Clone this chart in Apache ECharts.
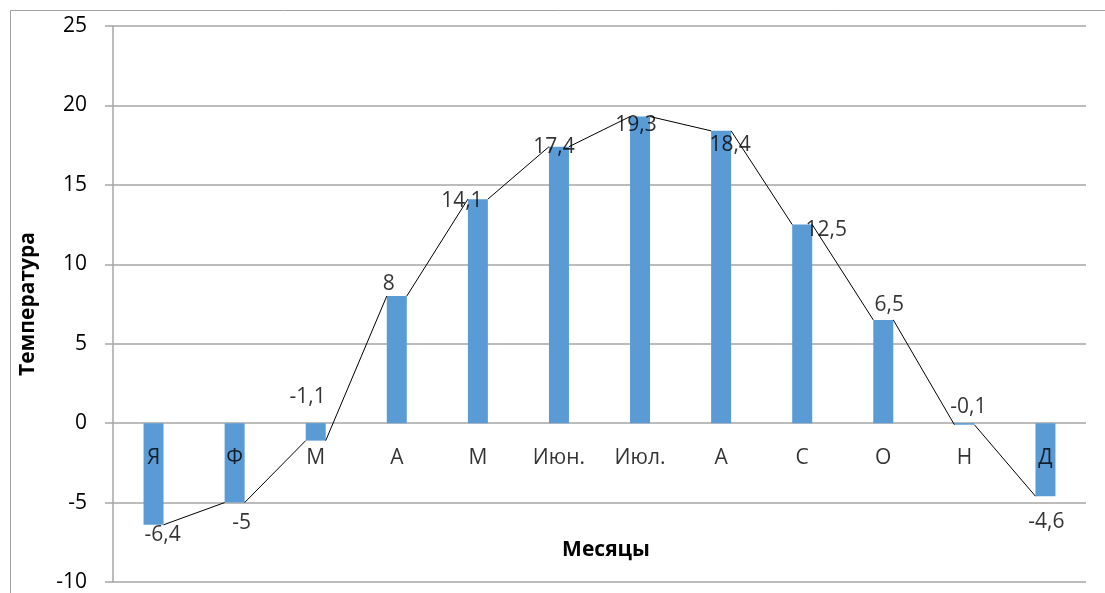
<!DOCTYPE html>
<html>
<head>
<meta charset="utf-8">
<script src="https://cdn.jsdelivr.net/npm/echarts@6/dist/echarts.min.js"></script>
<style>
html,body{margin:0;padding:0;background:#fff;}
#chart{width:1105px;height:593px;}
</style>
</head>
<body>
<div id="chart"></div>
<script>
// ---- data ----
const months = ['Я', 'Ф', 'М', 'А', 'М', 'Июн.', 'Июл.', 'А', 'С', 'О', 'Н', 'Д'];
const temperatures = [-6.4, -5, -1.1, 8, 14.1, 17.4, 19.3, 18.4, 12.5, 6.5, -0.1, -4.6];
const yTicks = { min: -10, max: 25, step: 5 };
const xTitle = 'Месяцы';
const yTitle = 'Температура';

// ---- layout / style (not data) ----
const FONT = 'Open Sans';
const FS = 21;
const BAR_PX = 20;
const CAT_PX = (1105 - 113 - 19) / months.length;
const HALF = (BAR_PX / 2) / CAT_PX; // half bar width in category units
// label nudges in px relative to the bar end point
const labelNudge = [[9, 10], [7, 20], [-8, -44], [-8, -12], [-16, 2], [-5, 0],
                    [-4, 8], [9, 14], [24, 5], [6, -15], [4, -18], [1, 26]];

// connecting line: from right corner of one bar to left corner of the next
const segments = [];
for (let i = 0; i < temperatures.length - 1; i++) {
  segments.push({ coords: [[i + HALF, temperatures[i]], [i + 1 - HALF, temperatures[i + 1]]] });
}

const fmt = v => String(v).replace('.', ',');
const gridColor = '#a6a6a6';

const chart = echarts.init(document.getElementById('chart'), null, { renderer: 'canvas' });
chart.setOption({
  animation: false,
  backgroundColor: '#fff',
  textStyle: { fontFamily: FONT },
  grid: { left: 113, right: 19, top: 26, bottom: 11, containLabel: false, outerBoundsMode: 'none' },
  title: {
    text: xTitle, left: 601, textAlign: 'center', top: 535,
    textStyle: { color: '#000', fontSize: FS, fontWeight: 'bold', fontFamily: FONT }
  },
  graphic: [{
    type: 'rect', left: 8, top: 8, z: -1,
    shape: { width: 1120, height: 620 },
    style: { fill: 'none', stroke: '#a0a0a0', lineWidth: 1 }
  }],
  xAxis: [{
    type: 'category',
    data: months,
    axisLine: { show: false },
    axisTick: { show: false },
    axisLabel: { show: false }
  }, {
    type: 'value', show: false, min: -0.5, max: months.length - 0.5
  }],
  yAxis: {
    type: 'value',
    min: yTicks.min, max: yTicks.max, interval: yTicks.step,
    axisLine: { show: true, onZero: false, lineStyle: { color: gridColor, width: 1.5 } },
    axisTick: { show: true, inside: false, length: 8, lineStyle: { color: gridColor, width: 1.5 } },
    splitLine: { show: true, lineStyle: { color: gridColor, width: 1.5 } },
    axisLabel: { color: '#000', fontSize: FS, fontFamily: FONT, margin: 26 },
    name: yTitle,
    nameLocation: 'middle',
    nameGap: 74,
    nameTextStyle: { color: '#000', fontSize: FS, fontWeight: 'bold', fontFamily: FONT }
  },
  series: [{
    type: 'bar',
    data: temperatures,
    barWidth: BAR_PX,
    itemStyle: { color: '#5b9bd5' },
    z: 2
  }, {
    type: 'lines',
    coordinateSystem: 'cartesian2d',
    xAxisIndex: 1,
    yAxisIndex: 0,
    data: segments,
    lineStyle: { color: '#000', width: 1, opacity: 1 },
    z: 3
  }, {
    // category names sit just below the zero line
    type: 'scatter',
    data: months.map((m, i) => [i, 0]),
    symbolSize: 1,
    itemStyle: { color: 'rgba(0,0,0,0)' },
    label: {
      show: true, position: 'inside', offset: [0, 35],
      formatter: p => months[p.dataIndex],
      color: '#000', fontSize: FS, fontFamily: FONT
    },
    z: 4
  }, {
    type: 'scatter',
    data: temperatures.map((v, i) => ({
      value: [i, v],
      label: { offset: labelNudge[i] }
    })),
    symbolSize: 1,
    itemStyle: { color: 'rgba(0,0,0,0)' },
    label: {
      show: true, position: 'inside',
      formatter: p => fmt(p.value[1]),
      color: '#000', fontSize: FS, fontFamily: FONT
    },
    z: 4
  }]
});
</script>
</body>
</html>
